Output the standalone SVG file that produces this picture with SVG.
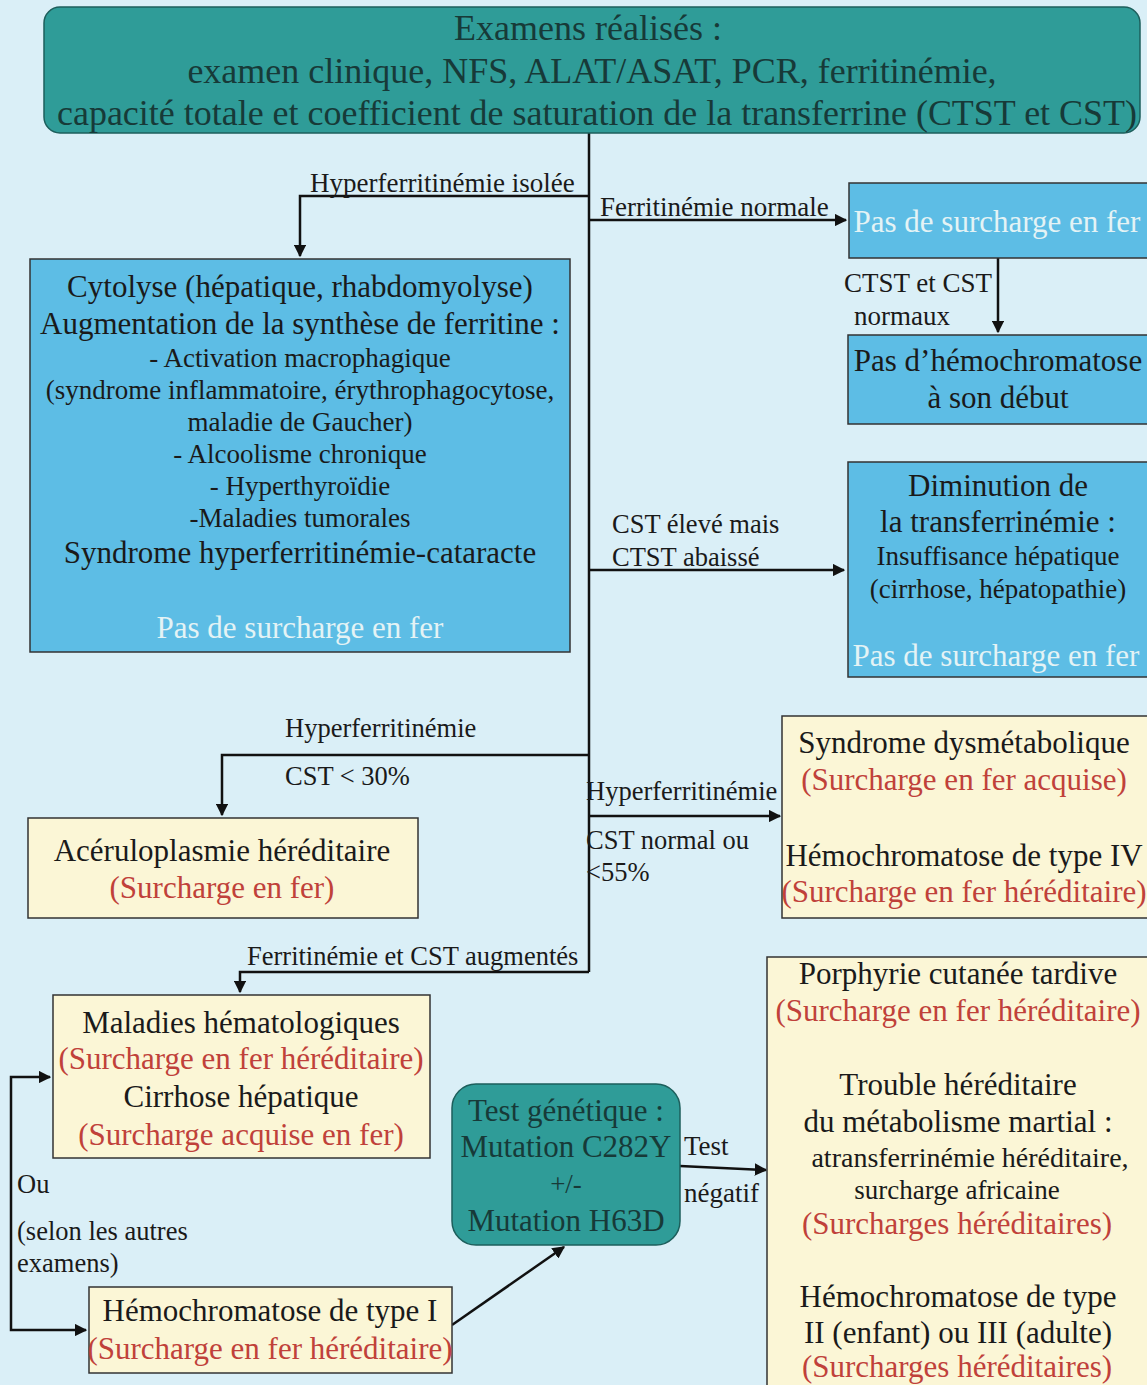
<svg xmlns="http://www.w3.org/2000/svg" width="1147" height="1385" viewBox="0 0 1147 1385">
<defs>
<style>
text{font-family:"Liberation Serif","Times New Roman",serif;fill:#1a1a1a;text-anchor:middle}
.teal{fill:#2f9c98;stroke:#1d5f5c;stroke-width:1.5}
.blue{fill:#5dbde5;stroke:#333;stroke-width:1.5}
.yel{fill:#fbf6d6;stroke:#333;stroke-width:1.5}
.ttl{fill:#173a38}
.wh{fill:#e4f3f5}
.red{fill:#c0413a}
.lbl{text-anchor:start}
.ln{fill:none;stroke:#111;stroke-width:2.5}
.f36{font-size:36px}.f31{font-size:31px}.f28{font-size:28px}.f27{font-size:27px}.f26{font-size:26.5px}
</style>
<marker id="ah" viewBox="0 0 10 10" refX="9" refY="5" markerWidth="5" markerHeight="5" orient="auto" markerUnits="strokeWidth">
<path d="M0,0 L10,5 L0,10 z" fill="#111"/>
</marker>
</defs>
<rect width="1147" height="1385" fill="#daeff7"/>

<g id="connectors">
<path class="ln" d="M589,133 V972"/>
<path class="ln" d="M589,196 H300 V256" marker-end="url(#ah)"/>
<path class="ln" d="M589,220 H846" marker-end="url(#ah)"/>
<path class="ln" d="M998,258 V332" marker-end="url(#ah)"/>
<path class="ln" d="M589,570 H844" marker-end="url(#ah)"/>
<path class="ln" d="M589,755 H222 V815" marker-end="url(#ah)"/>
<path class="ln" d="M589,816 H780" marker-end="url(#ah)"/>
<path class="ln" d="M589,972 H240 V992" marker-end="url(#ah)"/>
<path class="ln" d="M11,1200 V1077 H50" marker-end="url(#ah)"/>
<path class="ln" d="M11,1200 V1330 H86" marker-end="url(#ah)"/>
<path class="ln" d="M452,1325 L564,1247" marker-end="url(#ah)"/>
<path class="ln" d="M680,1166 L766,1170" marker-end="url(#ah)"/>
<text class="lbl f27" x="310" y="192">Hyperferritinémie isolée</text>
<text class="lbl f27" x="600" y="216">Ferritinémie normale</text>
<text class="f27" x="918" y="292">CTST et CST</text>
<text class="f27" x="902" y="325">normaux</text>
<text class="lbl f26" x="612" y="533">CST élevé mais</text>
<text class="lbl f26" x="612" y="566">CTST abaissé</text>
<text class="lbl f26" x="285" y="737">Hyperferritinémie</text>
<text class="lbl f26" x="285" y="785">CST &lt; 30%</text>
<text class="lbl f26" x="586" y="800">Hyperferritinémie</text>
<text class="lbl f26" x="586" y="849">CST normal ou</text>
<text class="lbl f26" x="586" y="881">&lt;55%</text>
<text class="lbl f26" x="247" y="965">Ferritinémie et CST augmentés</text>
<text class="lbl f26" x="17" y="1193">Ou</text>
<text class="lbl f26" x="17" y="1240">(selon les autres</text>
<text class="lbl f26" x="17" y="1272">examens)</text>
<text class="lbl f27" x="684" y="1155">Test</text>
<text class="lbl f27" x="684" y="1202">négatif</text>
</g>

<g id="n-examens">
<rect class="teal" x="44" y="7" width="1096" height="126" rx="16"/>
<text class="ttl f36" x="588" y="40">Examens réalisés :</text>
<text class="ttl f36" x="592" y="83">examen clinique, NFS, ALAT/ASAT, PCR, ferritinémie,</text>
<text class="ttl f36" x="597" y="125" textLength="1080" lengthAdjust="spacingAndGlyphs">capacité totale et coefficient de saturation de la transferrine (CTST et CST)</text>
</g>

<g id="n-pas-surcharge-1">
<rect class="blue" x="849" y="183" width="300" height="75"/>
<text class="wh f31" x="997" y="232">Pas de surcharge en fer</text>
</g>

<g id="n-pas-hemochromatose">
<rect class="blue" x="848" y="335" width="301" height="89"/>
<text class="f31" x="998" y="371">Pas d’hémochromatose</text>
<text class="f31" x="998" y="408">à son début</text>
</g>

<g id="n-cytolyse">
<rect class="blue" x="30" y="259" width="540" height="393"/>
<text class="f31" x="300" y="297">Cytolyse  (hépatique, rhabdomyolyse)</text>
<text class="f31" x="300" y="334">Augmentation de la synthèse de ferritine :</text>
<text class="f27" x="300" y="367">- Activation macrophagique</text>
<text class="f27" x="300" y="399">(syndrome inflammatoire, érythrophagocytose,</text>
<text class="f27" x="300" y="431">maladie de Gaucher)</text>
<text class="f27" x="300" y="463">- Alcoolisme chronique</text>
<text class="f27" x="300" y="495">- Hyperthyroïdie</text>
<text class="f27" x="300" y="527">-Maladies tumorales</text>
<text class="f31" x="300" y="563">Syndrome hyperferritinémie-cataracte</text>
<text class="wh f31" x="300" y="638">Pas de surcharge en fer</text>
</g>

<g id="n-diminution">
<rect class="blue" x="848" y="462" width="301" height="215"/>
<text class="f31" x="998" y="496">Diminution de</text>
<text class="f31" x="998" y="532">la transferrinémie :</text>
<text class="f27" x="998" y="565">Insuffisance hépatique</text>
<text class="f27" x="998" y="598">(cirrhose, hépatopathie)</text>
<text class="wh f31" x="996" y="666">Pas de surcharge en fer</text>
</g>

<g id="n-aceruloplasmie">
<rect class="yel" x="28" y="818" width="390" height="100"/>
<text class="f31" x="222" y="861">Acéruloplasmie héréditaire</text>
<text class="red f31" x="222" y="898">(Surcharge en fer)</text>
</g>

<g id="n-dysmetabolique">
<rect class="yel" x="782" y="716" width="367" height="202"/>
<text class="f31" x="964" y="753">Syndrome dysmétabolique</text>
<text class="red f31" x="964" y="790">(Surcharge en fer acquise)</text>
<text class="f31" x="964" y="866">Hémochromatose de type IV</text>
<text class="red f31" x="964" y="902">(Surcharge en fer héréditaire)</text>
</g>

<g id="n-hematologiques">
<rect class="yel" x="53" y="995" width="377" height="163"/>
<text class="f31" x="241" y="1033">Maladies hématologiques</text>
<text class="red f31" x="241" y="1069">(Surcharge en fer héréditaire)</text>
<text class="f31" x="241" y="1107">Cirrhose hépatique</text>
<text class="red f31" x="241" y="1145">(Surcharge acquise en fer)</text>
</g>

<g id="n-type1">
<rect class="yel" x="89" y="1287" width="363" height="86"/>
<text class="f31" x="270" y="1321">Hémochromatose de type I</text>
<text class="red f31" x="270" y="1359">(Surcharge en fer héréditaire)</text>
</g>

<g id="n-test-genetique">
<rect class="teal" x="452" y="1084" width="228" height="161" rx="24"/>
<text class="ttl f31" x="566" y="1121">Test génétique :</text>
<text class="ttl f31" x="566" y="1157">Mutation C282Y</text>
<text class="ttl f27" x="566" y="1193">+/-</text>
<text class="ttl f31" x="566" y="1231">Mutation H63D</text>
</g>

<g id="n-porphyrie">
<rect class="yel" x="767" y="957" width="382" height="430"/>
<text class="f31" x="958" y="984">Porphyrie cutanée tardive</text>
<text class="red f31" x="958" y="1021">(Surcharge en fer héréditaire)</text>
<text class="f31" x="958" y="1095">Trouble héréditaire</text>
<text class="f31" x="958" y="1132">du métabolisme martial :</text>
<text class="f28" x="970" y="1167">atransferrinémie héréditaire,</text>
<text class="f27" x="957" y="1199">surcharge africaine</text>
<text class="red f31" x="957" y="1234">(Surcharges héréditaires)</text>
<text class="f31" x="958" y="1307">Hémochromatose de type</text>
<text class="f31" x="958" y="1343">II (enfant) ou III (adulte)</text>
<text class="red f31" x="957" y="1377">(Surcharges héréditaires)</text>
</g>
</svg>
